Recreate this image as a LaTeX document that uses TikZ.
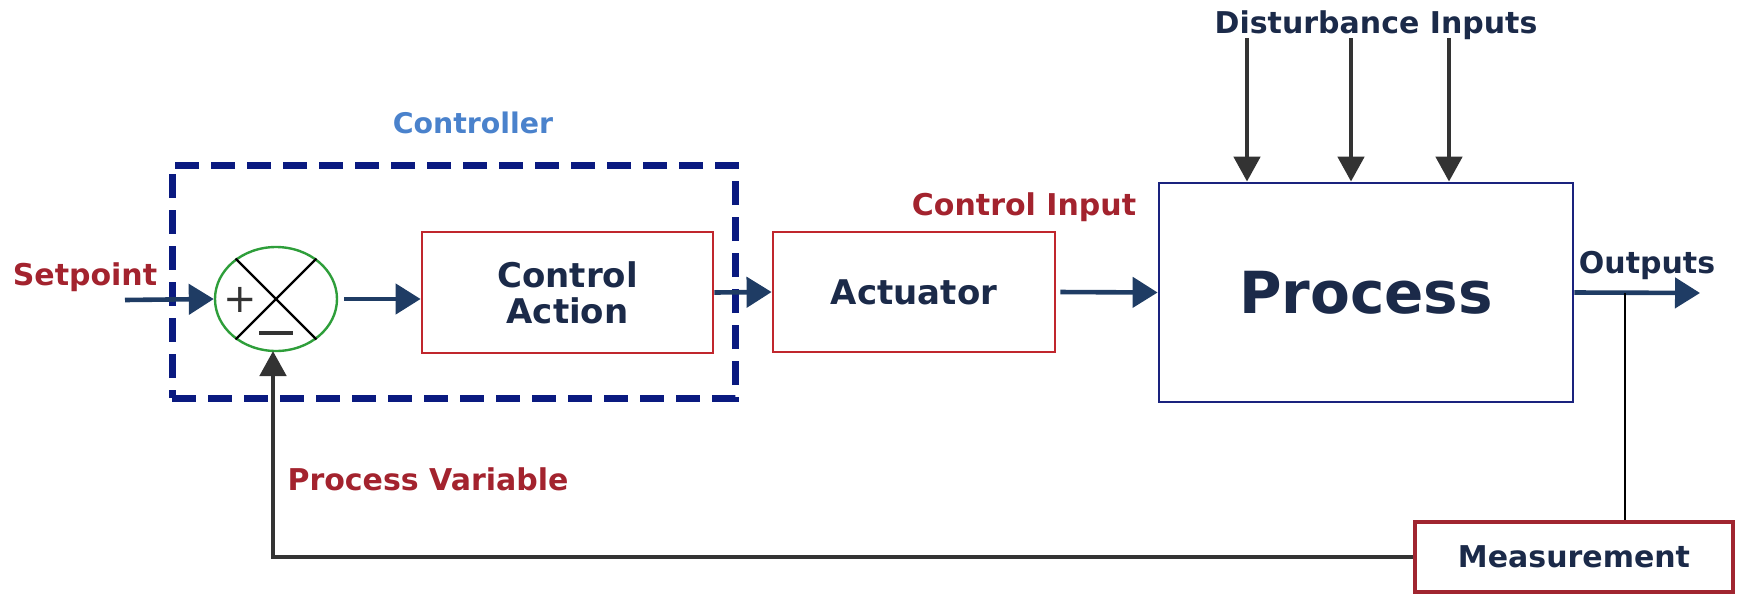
\documentclass[tikz,border=0pt]{standalone}
\usepackage{fontspec}
\setmainfont{DejaVu Sans}
\usetikzlibrary{arrows.meta,shapes.geometric}
\definecolor{navytext}{HTML}{1B2A49}
\definecolor{redtext}{HTML}{A3232E}
\definecolor{ctrlblue}{HTML}{4A82CC}
\definecolor{boxred}{HTML}{C0262D}
\definecolor{measred}{HTML}{A02530}
\definecolor{procnavy}{HTML}{1A237E}
\definecolor{dashnavy}{HTML}{0A1A80}
\definecolor{arrblue}{HTML}{1F3C64}
\definecolor{arrgrey}{HTML}{333333}
\definecolor{sumgreen}{HTML}{2E9E3A}
\tikzset{
  blockbox/.style={draw=boxred, line width=1.4pt, fill=white, inner sep=0pt,
    text=navytext, font=\bfseries\fontsize{17}{20}\selectfont, align=center},
  lbl/.style={font=\bfseries\fontsize{15}{18}\selectfont, inner sep=0pt},
  mainarrow/.style={draw=arrblue, line width=2.3pt, -{Triangle[length=12.5pt,width=15pt]}},
  greyarrow/.style={draw=arrgrey, line width=2.4pt, -{Triangle[length=12.5pt,width=13pt]}},
}
\begin{document}
\begin{tikzpicture}[x=0.5pt,y=-0.5pt]
\useasboundingbox (0,0) rectangle (1739,594);
% controller frame
\node (ctrl) [draw=dashnavy, line width=3.5pt, dash pattern=on 12pt off 6pt,
  minimum width=281.5pt, minimum height=116.5pt, inner sep=0pt] at (453.5,281.5) {};
\node (ctrllbl) [lbl, text=ctrlblue, font=\bfseries\fontsize{14.2}{17}\selectfont] at (473,123) {Controller};
% summing junction
\node (sum) [ellipse, draw=sumgreen, line width=1.2pt, fill=white,
  minimum width=61pt, minimum height=52pt, inner sep=0pt] at (276,299) {};
\draw[line width=1.1pt] (sum.135) -- (sum.315);
\draw[line width=1.1pt] (sum.45) -- (sum.225);
\node (plus) [inner sep=0pt, text=arrgrey, font=\fontsize{20}{20}\selectfont] at (240,300) {+};
\draw[line width=2pt, draw=arrgrey] (259,333) -- (293,333);
% blocks
\node (ca) [blockbox, minimum width=145.5pt, minimum height=60.5pt] at (567.5,292.5) {Control\\[-2pt]Action};
\node (act) [blockbox, minimum width=141pt, minimum height=60pt] at (914,292) {Actuator};
\node (proc) [draw=procnavy, line width=1.4pt, fill=white, inner sep=0pt,
  minimum width=207pt, minimum height=109.5pt, text=navytext,
  font=\bfseries\fontsize{29}{34}\selectfont] at (1366,292.5) {Process};
\node (meas) [draw=measred, line width=1.6pt, fill=white, inner sep=0pt,
  minimum width=159pt, minimum height=35pt, text=navytext,
  font=\bfseries\fontsize{15}{18}\selectfont] at (1574,557) {Measurement};
% labels
\node (sp) [lbl, text=redtext] at (85,277) {Setpoint};
\node (ci) [lbl, text=redtext] at (1024,207) {Control Input};
\node (di) [lbl, text=navytext] at (1376,25) {Disturbance Inputs};
\node (outl) [lbl, text=navytext] at (1647,265) {Outputs};
\node (pv) [lbl, text=redtext] at (428,479) {Process Variable};
% coordinates
\coordinate (spin) at (125,300);
\coordinate (out) at (1700,293);
\coordinate (br) at (1625,293);
\coordinate (d1) at (1247,38);
\coordinate (d2) at (1351,38);
\coordinate (d3) at (1449,38);
% connectors
\draw[mainarrow] (spin) -- (sum.west);
\draw[mainarrow, shorten <=3pt] (sum.east) -- (sum.east -| ca.west);
\draw[mainarrow] (ca.east) -- (act.west);
\draw[mainarrow, shorten <=2pt] (act.east) -- (proc.west);
\draw[mainarrow] (proc.east) -- (out);
\draw[draw=black, line width=1.2pt] (br) -- (br |- meas.north);
\draw[greyarrow] (d1) -- (d1 |- proc.north);
\draw[greyarrow] (d2) -- (d2 |- proc.north);
\draw[greyarrow] (d3) -- (d3 |- proc.north);
\draw[draw=arrgrey, line width=1.6pt] (meas.west) -- (273,557) -- (273,400);
\draw[greyarrow] (273,402) -- (273,351);
\end{tikzpicture}
\end{document}
